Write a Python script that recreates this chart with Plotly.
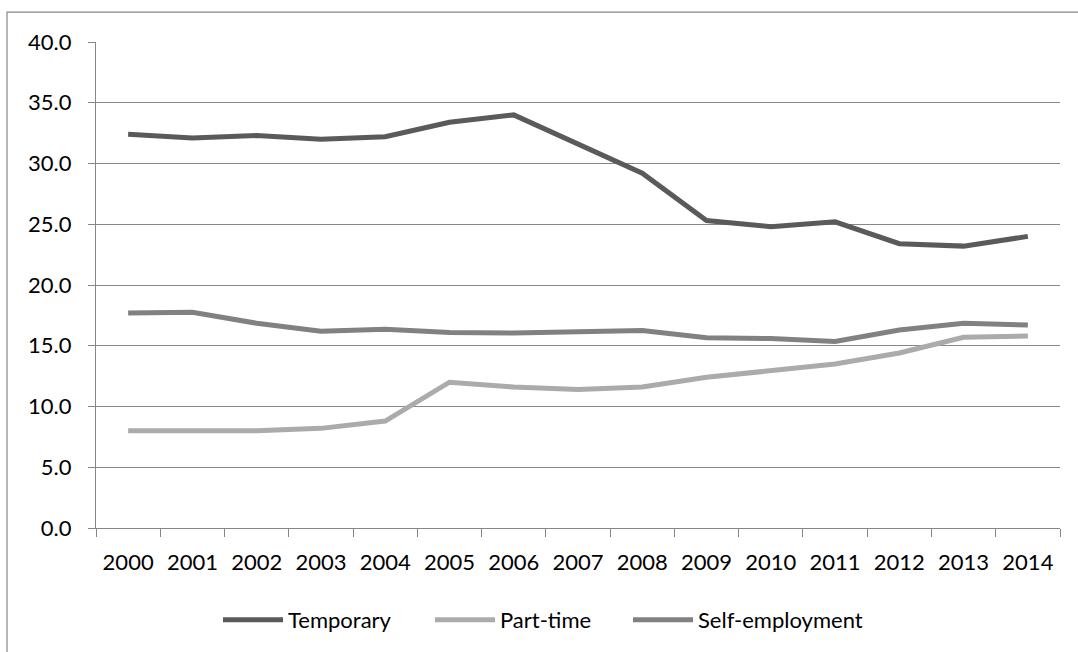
import plotly.graph_objects as go

years = [str(y) for y in range(2000, 2015)]
temporary = [32.4, 32.1, 32.3, 32.0, 32.2, 33.4, 34.0, 31.6, 29.2, 25.3, 24.8, 25.2, 23.4, 23.2, 24.0]
part_time = [8.0, 8.0, 8.0, 8.2, 8.8, 12.0, 11.6, 11.4, 11.6, 12.4, 12.9, 13.5, 14.4, 15.7, 15.8]
self_emp = [17.7, 17.75, 16.85, 16.2, 16.35, 16.1, 16.05, 16.15, 16.25, 15.65, 15.6, 15.35, 16.3, 16.85, 16.7]
y_ticks = [0, 5, 10, 15, 20, 25, 30, 35, 40]

W, H = 1078, 652
L, R, T, B = 96, 18, 42, 123

pw = W - L - R
ph = H - T - B
def px2x(p):
    return (p - L) / pw
def py2y(p):
    return (H - B - p) / ph

series = [("Temporary", temporary, "#5a5a5a", "legend", 224),
          ("Part-time", part_time, "#ababab", "legend2", 436),
          ("Self-employment", self_emp, "#818181", "legend3", 634)]

fig = go.Figure()
legends = {}
for name, vals, col, lg, lx in series:
    fig.add_trace(go.Scatter(x=years, y=vals, mode="lines", name=name,
                             line=dict(color=col, width=5), legend=lg))
    legends[lg] = dict(orientation="h", x=px2x(lx - 6), xanchor="left",
                       y=py2y(620), yanchor="middle",
                       font=dict(size=22), itemwidth=60,
                       bgcolor="rgba(0,0,0,0)")

fig.add_shape(type="rect", xref="paper", yref="paper",
              x0=px2x(7), x1=px2x(1080), y0=py2y(655), y1=py2y(12),
              line=dict(color="#868686", width=1.2), fillcolor="rgba(0,0,0,0)",
              layer="below")

fig.update_layout(
    width=W, height=H,
    margin=dict(l=L, r=R, t=T, b=B),
    paper_bgcolor="white", plot_bgcolor="white",
    font=dict(family="Lato, Carlito, sans-serif", size=22, color="#000000"),
    showlegend=True,
    xaxis=dict(type="category", tickson="boundaries", ticks="outside",
               ticklen=8, tickcolor="#868686", showgrid=False,
               showline=True, linecolor="#868686", linewidth=1.2,
               range=[-0.5, 14.5], ticklabelstandoff=14),
    yaxis=dict(range=[0, 40], tickvals=y_ticks,
               ticktext=[f"{v:.1f}" for v in y_ticks],
               ticks="outside", ticklen=7, tickcolor="#868686",
               showgrid=True, gridcolor="#878787", gridwidth=1.2,
               showline=True, linecolor="#868686", linewidth=1.2,
               zeroline=False, ticklabelstandoff=12),
    **legends,
)

fig.write_html("out.html", config={"displayModeBar": False},
               post_script="document.body.style.margin='0';document.body.style.overflow='hidden';")
